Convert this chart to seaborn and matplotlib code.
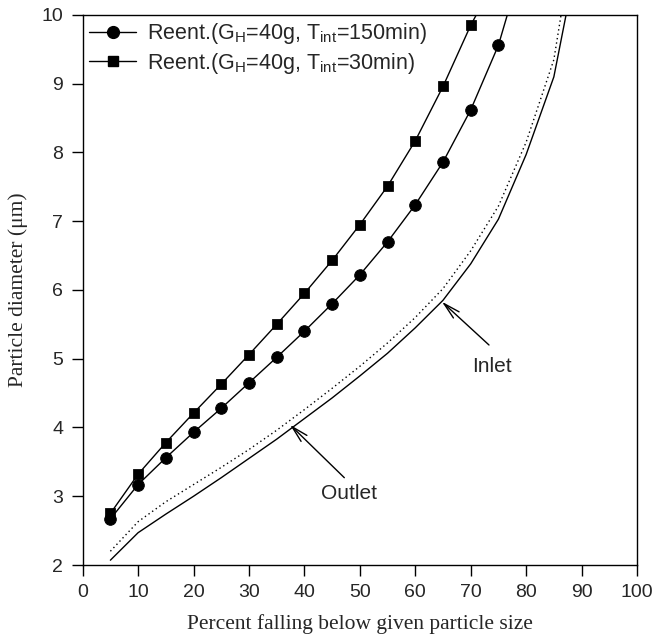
import matplotlib
matplotlib.use("Agg")
import matplotlib.pyplot as plt
import seaborn as sns
import pandas as pd
from matplotlib.lines import Line2D

# ---- data ----
pct_150 = [5, 10, 15, 20, 25, 30, 35, 40, 45, 50, 55, 60, 65, 70, 75]
dia_150 = [2.67, 3.17, 3.56, 3.93, 4.28, 4.65, 5.02, 5.40, 5.80, 6.22, 6.70, 7.24, 7.86, 8.62, 9.56]
end_150 = (76.6, 10.0)

pct_30 = [5, 10, 15, 20, 25, 30, 35, 40, 45, 50, 55, 60, 65, 70]
dia_30 = [2.75, 3.32, 3.78, 4.21, 4.63, 5.06, 5.50, 5.95, 6.43, 6.95, 7.51, 8.17, 8.96, 9.85]
end_30 = (71.0, 10.0)

pct_solid = [5, 10, 15, 20, 25, 30, 35, 40, 45, 50, 55, 60, 65, 70, 75, 80, 85, 87.2]
dia_solid = [2.07, 2.47, 2.74, 3.00, 3.27, 3.55, 3.83, 4.13, 4.43, 4.75, 5.08, 5.45, 5.85, 6.38, 7.03, 7.97, 9.10, 10.0]

pct_dotted = [5, 10, 15, 20, 25, 30, 35, 40, 45, 50, 55, 60, 65, 70, 75, 80, 85, 86.3]
dia_dotted = [2.20, 2.63, 2.92, 3.17, 3.42, 3.68, 3.96, 4.26, 4.57, 4.89, 5.23, 5.60, 6.02, 6.57, 7.22, 8.15, 9.35, 10.0]

label_150 = r"Reent.(G$_{\mathrm{H}}$=40g, T$_{\mathrm{int}}$=150min)"
label_30 = r"Reent.(G$_{\mathrm{H}}$=40g, T$_{\mathrm{int}}$=30min)"

x_ticks = [0, 10, 20, 30, 40, 50, 60, 70, 80, 90, 100]
y_ticks = [2, 3, 4, 5, 6, 7, 8, 9, 10]

# ---- style ----
sns.set_theme(style="white")
plt.rcParams["font.family"] = ["Liberation Sans", "DejaVu Sans"]
plt.rcParams["mathtext.fontset"] = "custom"
plt.rcParams["mathtext.rm"] = "Liberation Sans"
plt.rcParams["mathtext.it"] = "Liberation Sans:italic"
plt.rcParams["mathtext.bf"] = "Liberation Sans:bold"

fig = plt.figure(figsize=(6.53, 6.43), dpi=100)
ax = fig.add_axes([0.1266, 0.1213, 0.8489, 0.8554])

df150_line = pd.DataFrame({"x": pct_150 + [end_150[0]], "y": dia_150 + [end_150[1]]})
df30_line = pd.DataFrame({"x": pct_30 + [end_30[0]], "y": dia_30 + [end_30[1]]})
df150 = pd.DataFrame({"x": pct_150, "y": dia_150})
df30 = pd.DataFrame({"x": pct_30, "y": dia_30})
dfs = pd.DataFrame({"x": pct_solid, "y": dia_solid})
dfd = pd.DataFrame({"x": pct_dotted, "y": dia_dotted})

sns.lineplot(data=df150_line, x="x", y="y", ax=ax, color="black", lw=1.0, estimator=None)
sns.lineplot(data=df30_line, x="x", y="y", ax=ax, color="black", lw=1.0, estimator=None)
sns.scatterplot(data=df150, x="x", y="y", ax=ax, color="black", marker="o", s=70, edgecolor="black", zorder=3)
sns.scatterplot(data=df30, x="x", y="y", ax=ax, color="black", marker="s", s=48, edgecolor="black", zorder=3)
sns.lineplot(data=dfs, x="x", y="y", ax=ax, color="black", lw=1.0, estimator=None)
sns.lineplot(data=dfd, x="x", y="y", ax=ax, color="black", lw=1.0, ls=(0, (1, 2.2)), estimator=None)

ax.set_xlim(0, 100)
ax.set_ylim(2, 10)
ax.set_xticks(x_ticks)
ax.set_yticks(y_ticks)
ax.tick_params(axis="both", direction="out", length=8, width=1, color="black",
               labelsize=14, bottom=True, left=True, top=False, right=False, pad=6)
for s in ax.spines.values():
    s.set_color("black")
    s.set_linewidth(1.0)

ax.set_xlabel("Percent falling below given particle size", family="Liberation Serif", fontsize=15.5, labelpad=9)
ax.set_ylabel("Particle diameter (μm)", family="Liberation Serif", fontsize=15.5, labelpad=10)

# annotations
arrow = dict(arrowstyle="->,head_length=1.0,head_width=0.25", color="black", lw=1.0, shrinkA=0, shrinkB=0)
ax.annotate("", xy=(64.8, 5.83), xytext=(73.3, 5.2), arrowprops=arrow)
ax.text(73.8, 4.88, "Inlet", ha="center", va="center", fontsize=15)
ax.annotate("", xy=(37.4, 4.04), xytext=(47.2, 3.27), arrowprops=arrow)
ax.text(48.1, 3.04, "Outlet", ha="center", va="center", fontsize=15)

handles = [
    Line2D([], [], color="black", lw=1.0, marker="o", markersize=8.5),
    Line2D([], [], color="black", lw=1.0, marker="s", markersize=7),
]
ax.legend(handles, [label_150, label_30], loc="upper left", bbox_to_anchor=(0.0, 1.0),
          frameon=False, fontsize=15.5, handlelength=2.2, handletextpad=0.5,
          labelspacing=0.2, borderaxespad=0.0, borderpad=0.3)

fig.savefig("out.png", dpi=100)
